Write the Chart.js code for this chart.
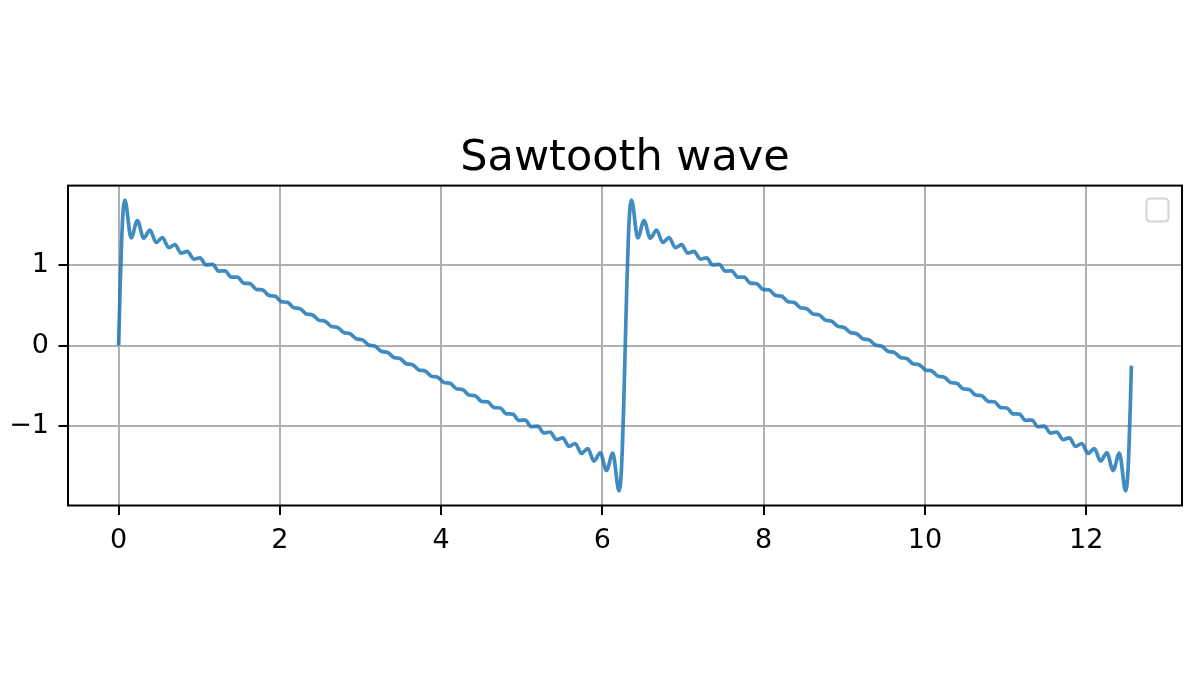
<!DOCTYPE html>
<html>
<head>
<meta charset="utf-8">
<script src="https://cdn.jsdelivr.net/npm/chart.js@4.4.1/dist/chart.umd.min.js"></script>
<style>
  body { margin: 0; background: #fff; }
  canvas { display: block; }
</style>
</head>
<body>
<canvas id="sawtooth" width="1200" height="694"></canvas>
<script>
const chartTitle = "Sawtooth wave";
const xTicks = [0, 2, 4, 6, 8, 10, 12];
const yTicks = [-1, 0, 1];

// first period, 0 .. 2pi (peaks and troughs of the ripples)
const firstX = [0, 0.0194, 0.0388, 0.0582,
  0.0776, 0.1551, 0.2327, 0.3103, 0.3879, 0.4654, 0.5430, 0.6206, 0.6981, 0.7757,
  0.8533, 0.9308, 1.0084, 1.0860, 1.1636, 1.2411, 1.3187, 1.3963, 1.4738, 1.5514,
  1.6290, 1.7065, 1.7841, 1.8617, 1.9393, 2.0168, 2.0944, 2.1720, 2.2495, 2.3271,
  2.4047, 2.4822, 2.5598, 2.6374, 2.7150, 2.7925, 2.8701, 2.9477, 3.0252, 3.1028,
  3.1804, 3.2579, 3.3355, 3.4131, 3.4907, 3.5682, 3.6458, 3.7234, 3.8009, 3.8785,
  3.9561, 4.0337, 4.1112, 4.1888, 4.2664, 4.3439, 4.4215, 4.4991, 4.5766, 4.6542,
  4.7318, 4.8094, 4.8869, 4.9645, 5.0421, 5.1196, 5.1972, 5.2748, 5.3523, 5.4299,
  5.5075, 5.5851, 5.6626, 5.7402, 5.8178, 5.8953, 5.9729, 6.0505, 6.1280, 6.2056,
  6.2250, 6.2444, 6.2638];
const firstY = [0, 0.749, 1.351, 1.711,
  1.813, 1.341, 1.558, 1.337, 1.440, 1.285, 1.345, 1.221, 1.257, 1.151,
  1.174, 1.078, 1.092, 1.004, 1.012, 0.929, 0.932, 0.854, 0.852, 0.778,
  0.773, 0.701, 0.695, 0.625, 0.616, 0.548, 0.538, 0.471, 0.460, 0.394,
  0.382, 0.317, 0.304, 0.239, 0.226, 0.162, 0.148, 0.085, 0.071, 0.007,
  -0.007, -0.071, -0.085, -0.148, -0.162, -0.226, -0.239, -0.304, -0.317, -0.382,
  -0.394, -0.460, -0.471, -0.538, -0.548, -0.616, -0.625, -0.695, -0.701, -0.773,
  -0.778, -0.852, -0.854, -0.932, -0.929, -1.012, -1.004, -1.092, -1.078, -1.174,
  -1.151, -1.257, -1.221, -1.345, -1.285, -1.440, -1.337, -1.558, -1.341, -1.813,
  -1.711, -1.351, -0.749];

// second period, 2pi .. ~4pi
const secondX = [6.2832, 6.3026, 6.3220, 6.3414,
  6.3608, 6.4383, 6.5159, 6.5935, 6.6711, 6.7486, 6.8262, 6.9038, 6.9813, 7.0589,
  7.1365, 7.2140, 7.2916, 7.3692, 7.4468, 7.5243, 7.6019, 7.6795, 7.7570, 7.8346,
  7.9122, 7.9897, 8.0673, 8.1449, 8.2225, 8.3000, 8.3776, 8.4552, 8.5327, 8.6103,
  8.6879, 8.7654, 8.8430, 8.9206, 8.9982, 9.0757, 9.1533, 9.2309, 9.3084, 9.3860,
  9.4636, 9.5411, 9.6187, 9.6963, 9.7739, 9.8514, 9.9290, 10.0066, 10.0841, 10.1617,
  10.2393, 10.3168, 10.3944, 10.4720, 10.5496, 10.6271, 10.7047, 10.7823, 10.8598, 10.9374,
  11.0150, 11.0926, 11.1701, 11.2477, 11.3253, 11.4028, 11.4804, 11.5580, 11.6355, 11.7131,
  11.7907, 11.8683, 11.9458, 12.0234, 12.1010, 12.1785, 12.2561, 12.3337, 12.4112, 12.4888,
  12.5082, 12.5276, 12.5470, 12.5600];
const secondY = [0, 0.749, 1.351, 1.711,
  1.813, 1.341, 1.558, 1.337, 1.440, 1.285, 1.345, 1.221, 1.257, 1.151,
  1.174, 1.078, 1.092, 1.004, 1.012, 0.929, 0.932, 0.854, 0.852, 0.778,
  0.773, 0.701, 0.695, 0.625, 0.616, 0.548, 0.538, 0.471, 0.460, 0.394,
  0.382, 0.317, 0.304, 0.239, 0.226, 0.162, 0.148, 0.085, 0.071, 0.007,
  -0.007, -0.071, -0.085, -0.148, -0.162, -0.226, -0.239, -0.304, -0.317, -0.382,
  -0.394, -0.460, -0.471, -0.538, -0.548, -0.616, -0.625, -0.695, -0.701, -0.773,
  -0.778, -0.852, -0.854, -0.932, -0.929, -1.012, -1.004, -1.092, -1.078, -1.174,
  -1.151, -1.257, -1.221, -1.345, -1.285, -1.440, -1.337, -1.558, -1.341, -1.813,
  -1.711, -1.351, -0.749, -0.25];

const allX = firstX.concat(secondX);
const allY = firstY.concat(secondY);
const points = allX.map((x, i) => ({ x: x, y: allY[i] }));

const font = "DejaVu Sans";

// axes frame + the empty legend box in the upper right
const framePlugin = {
  id: "frame",
  afterDatasetsDraw(chart) {
    const { ctx, chartArea: a } = chart;
    ctx.save();
    ctx.strokeStyle = "#000";
    ctx.lineWidth = 2;
    ctx.strokeRect(a.left, a.top, a.right - a.left, a.bottom - a.top);
    ctx.beginPath();
    ctx.roundRect(a.right - 35.5, a.top + 13, 22, 23, 4);
    ctx.fillStyle = "rgba(255,255,255,0.8)";
    ctx.fill();
    ctx.strokeStyle = "#d4d4d4";
    ctx.lineWidth = 2;
    ctx.stroke();
    ctx.restore();
  }
};

const ctx = document.getElementById("sawtooth").getContext("2d");
new Chart(ctx, {
  type: "line",
  data: {
    datasets: [{
      data: points,
      borderColor: "rgba(31,119,180,0.85)",
      borderWidth: 3.7,
      pointRadius: 0,
      fill: false,
      cubicInterpolationMode: "monotone"
    }]
  },
  options: {
    responsive: false,
    devicePixelRatio: 1,
    animation: false,
    layout: { padding: { top: 133, right: 18, bottom: 128.5, left: 0 } },
    plugins: {
      legend: { display: false },
      tooltip: { enabled: false },
      title: {
        display: true,
        text: chartTitle,
        fullSize: false,
        color: "#000",
        font: { family: font, size: 43, weight: "normal" },
        padding: { top: 0, bottom: 1 }
      }
    },
    scales: {
      x: {
        type: "linear",
        min: -0.628,
        max: 13.188,
        afterBuildTicks: (scale) => { scale.ticks = xTicks.map(v => ({ value: v })); },
        afterFit: (scale) => { scale.height = 60; },
        grid: { color: "#b0b0b0", lineWidth: 2, tickLength: 9.5, tickColor: "#000", tickWidth: 2 },
        border: { display: false },
        ticks: {
          autoSkip: false, maxRotation: 0, padding: 9.5, color: "#000",
          font: { family: font, size: 27 },
          callback: (v) => String(v)
        }
      },
      y: {
        min: -1.994,
        max: 1.994,
        afterBuildTicks: (scale) => { scale.ticks = yTicks.map(v => ({ value: v })); },
        afterFit: (scale) => { scale.width = 68; },
        grid: { color: "#b0b0b0", lineWidth: 2, tickLength: 9.5, tickColor: "#000", tickWidth: 2 },
        border: { display: false },
        ticks: {
          autoSkip: false, padding: 9.5, color: "#000",
          font: { family: font, size: 27 },
          callback: (v) => String(v).replace("-", "\u2212")
        }
      }
    }
  },
  plugins: [framePlugin]
});
</script>
</body>
</html>
